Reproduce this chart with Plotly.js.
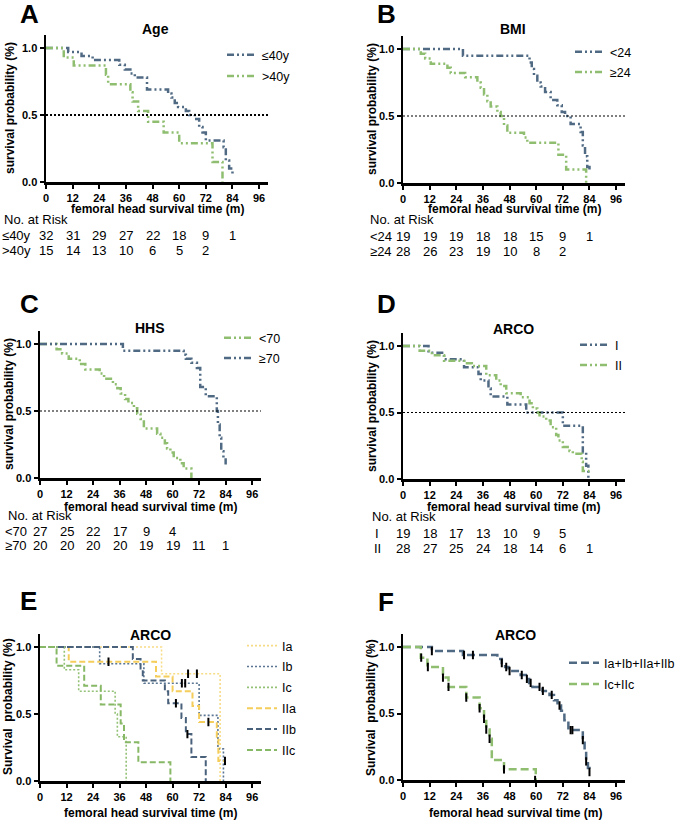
<!DOCTYPE html>
<html>
<head>
<meta charset="utf-8">
<script src="https://cdn.plot.ly/plotly-3.0.1.min.js"></script>
<style>body{margin:0;background:#fff}</style>
</head>
<body>
<div id="chart" style="width:685px;height:820px"></div>
<script>
// KM steps: time (m) where the curve drops, survival after the drop
var ageLe40T = [0, 10, 16, 21, 33, 35.5, 38, 40, 45.5, 55, 56.5, 58, 59.5, 63, 64.5, 67, 69, 70.5, 72, 80, 81, 82.5, 84];
var ageLe40S = [1, 0.97, 0.94, 0.91, 0.875, 0.84, 0.81, 0.78, 0.69, 0.66, 0.63, 0.59, 0.56, 0.53, 0.50, 0.47, 0.41, 0.37, 0.31, 0.26, 0.16, 0.10, 0.06];
var ageGt40T = [0, 8, 12.5, 27, 28, 38, 39, 41.5, 46, 53, 60, 75, 79.5];
var ageGt40S = [1, 0.93, 0.87, 0.80, 0.73, 0.67, 0.60, 0.53, 0.45, 0.37, 0.29, 0.15, 0];

var bmiLt24T = [0, 27, 57, 58, 59, 60.5, 62, 64, 66.5, 69.5, 71.5, 73, 75.5, 80, 81, 82, 83, 84];
var bmiLt24S = [1, 0.95, 0.90, 0.85, 0.80, 0.75, 0.72, 0.68, 0.62, 0.58, 0.53, 0.50, 0.44, 0.38, 0.28, 0.20, 0.12, 0.08];
var bmiGe24T = [0, 8, 10, 12.5, 20, 21.5, 28, 33.5, 35, 36.5, 38, 39.5, 42.5, 44, 45.5, 47, 54.5, 56, 70, 73.5, 82.5];
var bmiGe24S = [1, 0.965, 0.93, 0.89, 0.86, 0.82, 0.79, 0.75, 0.71, 0.66, 0.61, 0.57, 0.53, 0.50, 0.43, 0.375, 0.34, 0.30, 0.21, 0.10, 0];

var hhsLt70T = [0, 7.5, 10, 13, 18, 20.5, 27, 29, 33, 35, 36.5, 38.5, 40, 42.5, 44, 45.5, 47, 53, 54.5, 56.5, 57.5, 59, 60.5, 63.5, 65, 68.5];
var hhsLt70S = [1, 0.96, 0.93, 0.89, 0.85, 0.81, 0.78, 0.74, 0.70, 0.67, 0.63, 0.59, 0.56, 0.52, 0.48, 0.44, 0.37, 0.33, 0.30, 0.26, 0.22, 0.19, 0.15, 0.11, 0.07, 0];
var hhsGe70T = [0, 37.5, 65, 66, 68.5, 71, 72.5, 75, 80, 80.5, 81.3, 82, 83, 84];
var hhsGe70S = [1, 0.95, 0.92, 0.89, 0.86, 0.82, 0.68, 0.61, 0.50, 0.40, 0.30, 0.20, 0.15, 0.10];

var arcoIT = [0, 11.5, 18.5, 27.5, 34, 35, 38.5, 39.5, 47, 55.5, 72, 81, 82.5, 83.5];
var arcoIS = [1, 0.95, 0.90, 0.84, 0.79, 0.74, 0.68, 0.62, 0.56, 0.50, 0.40, 0.20, 0.10, 0];
var arcoIIT = [0, 7.5, 13, 18.5, 27.5, 31, 37.5, 42, 44, 46.5, 53, 57, 58.5, 60.5, 61.5, 64.5, 66.5, 69, 70, 72, 75, 76.5, 80.5, 81, 84];
var arcoIIS = [1, 0.964, 0.93, 0.89, 0.87, 0.85, 0.78, 0.74, 0.70, 0.645, 0.615, 0.57, 0.53, 0.50, 0.47, 0.44, 0.39, 0.33, 0.29, 0.24, 0.21, 0.19, 0.13, 0.06, 0.06];

var eIaT = [0, 55, 81.5];
var eIaS = [1, 0.80, 0];
var eIbT = [0, 27, 47, 72, 80.5, 83];
var eIbS = [1, 0.875, 0.73, 0.49, 0.24, 0];
var eIcT = [0, 11, 17.5, 34, 35, 39];
var eIcS = [1, 0.83, 0.67, 0.50, 0.33, 0];
var eIIaT = [0, 13, 52.5, 60, 69, 72, 80, 80.7, 83.5];
var eIIaS = [1, 0.89, 0.78, 0.67, 0.56, 0.44, 0.33, 0.15, 0.15];
var eIIbT = [0, 42, 45.5, 46.5, 56.5, 58, 64, 66, 68.5, 75];
var eIIbS = [1, 0.91, 0.83, 0.75, 0.67, 0.58, 0.47, 0.35, 0.18, 0];
var eIIcT = [0, 7.5, 20, 27.5, 36.5, 38, 44.5, 59];
var eIIcS = [1, 0.86, 0.71, 0.57, 0.43, 0.29, 0.14, 0];
// censored marks in E
var eCensT = [67, 71, 64.2, 65.7, 31, 76.2, 83.7, 61.5, 66.7];
var eCensS = [0.80, 0.80, 0.73, 0.73, 0.89, 0.44, 0.15, 0.58, 0.35];

var fAbT = [0, 13, 27, 42.5, 44.5, 46, 47.5, 53, 55.3, 56.8, 58.3, 62.8, 66, 68, 69.6, 71.2, 72.7, 74.5, 81, 81.8, 82.5, 83.3, 84];
var fAbS = [1, 0.97, 0.94, 0.91, 0.88, 0.85, 0.82, 0.79, 0.76, 0.73, 0.70, 0.67, 0.64, 0.60, 0.56, 0.52, 0.45, 0.375, 0.30, 0.22, 0.14, 0.09, 0.06];
var fCT = [0, 8, 11, 18, 20.5, 28.5, 34.5, 36.5, 37.5, 39, 40, 45.5, 59.8];
var fCS = [1, 0.92, 0.85, 0.77, 0.70, 0.62, 0.54, 0.46, 0.38, 0.31, 0.15, 0.08, 0];
var fAbCensT = [13, 27.5, 31.5, 44.5, 46.5, 48, 53.5, 55.8, 57.5, 61.5, 63, 67, 70.5, 75.5, 76.3, 81, 82.5, 84];
var fAbCensS = [0.97, 0.94, 0.94, 0.88, 0.85, 0.82, 0.79, 0.76, 0.73, 0.70, 0.67, 0.64, 0.56, 0.375, 0.375, 0.30, 0.14, 0.06];
var fCCensT = [8.2, 11.2, 18, 20.5, 28.5, 34.5, 36.5, 37.5, 39, 45.5, 59.5];
var fCCensS = [0.92, 0.85, 0.77, 0.70, 0.62, 0.54, 0.46, 0.38, 0.31, 0.08, 0.0];

// number at risk
var riskT = [0, 12, 24, 36, 48, 60, 72, 84];
var riskLe40 = [32, 31, 29, 27, 22, 18, 9, 1];
var riskGt40 = [15, 14, 13, 10, 6, 5, 2];
var riskLt24 = [19, 19, 19, 18, 18, 15, 9, 1];
var riskGe24 = [28, 26, 23, 19, 10, 8, 2];
var riskLt70 = [27, 25, 22, 17, 9, 4];
var riskGe70 = [20, 20, 20, 20, 19, 19, 11, 1];
var riskI = [19, 18, 17, 13, 10, 9, 5];
var riskII = [28, 27, 25, 24, 18, 14, 6, 1];

var xTicks = [0, 12, 24, 36, 48, 60, 72, 84, 96];

var W = 685, H = 820;
var FONT = 'Arial, Liberation Sans, Helvetica, sans-serif';
var BLUE = '#506a84', GREEN = '#8fbe70';
var DDOT = '7px,3px,2px,3px,2px,3px';

function px(x) { return x / W; }
function py(y) { return 1 - y / H; }

function km(t, s, name, color, dash, width, n, leg) {
  return {x: t, y: s, type: 'scatter', mode: 'lines', name: name,
    line: {shape: 'hv', color: color, dash: dash, width: width},
    xaxis: 'x' + n, yaxis: 'y' + n, legend: leg, legendgroup: name + n, hoverinfo: 'skip'};
}
function cens(t, s, n) {
  return {x: t, y: s, type: 'scatter', mode: 'markers', showlegend: false,
    marker: {symbol: 'line-ns-open', size: 6, color: '#000', line: {width: 2, color: '#000'}},
    xaxis: 'x' + n, yaxis: 'y' + n, hoverinfo: 'skip'};
}

var traces = [
  km(ageLe40T, ageLe40S, '≤40y', BLUE, DDOT, 2.5, '', 'legend'),
  km(ageGt40T, ageGt40S, '&gt;40y', GREEN, DDOT, 2.5, '', 'legend'),
  km(bmiLt24T, bmiLt24S, '&lt;24', BLUE, DDOT, 2.5, '2', 'legend2'),
  km(bmiGe24T, bmiGe24S, '≥24', GREEN, DDOT, 2.5, '2', 'legend2'),
  km(hhsLt70T, hhsLt70S, '&lt;70', GREEN, DDOT, 2.5, '3', 'legend3'),
  km(hhsGe70T, hhsGe70S, '≥70', BLUE, DDOT, 2.5, '3', 'legend3'),
  km(arcoIT, arcoIS, 'I', BLUE, DDOT, 2.5, '4', 'legend4'),
  km(arcoIIT, arcoIIS, 'II', GREEN, DDOT, 2.5, '4', 'legend4'),
  km(eIaT, eIaS, 'Ia', '#f8dc85', '2px,2px', 1.6, '5', 'legend5'),
  km(eIbT, eIbS, 'Ib', '#5b7693', '2px,2px', 1.6, '5', 'legend5'),
  km(eIcT, eIcS, 'Ic', '#93c276', '2px,2px', 1.6, '5', 'legend5'),
  km(eIIaT, eIIaS, 'IIa', '#f4cd5a', '6px,3px', 2, '5', 'legend5'),
  km(eIIbT, eIIbS, 'IIb', '#4a617b', '6px,3px', 2, '5', 'legend5'),
  km(eIIcT, eIIcS, 'IIc', '#86b865', '6px,3px', 2, '5', 'legend5'),
  cens(eCensT, eCensS, '5'),
  km(fAbT, fAbS, 'Ia+Ib+IIa+IIb', BLUE, '8px,4px', 2.5, '6', 'legend6'),
  km(fCT, fCS, 'Ic+IIc', GREEN, '8px,4px', 2.5, '6', 'legend6'),
  cens(fAbCensT, fAbCensS, '6'),
  cens(fCCensT, fCCensS, '6')
];

// panel frames in pixels: [left, right, top, bottom]
var frames = [
  [46, 268, 34.6, 182],
  [403, 625, 35.6, 183],
  [40, 261, 330.6, 478],
  [403, 625, 332.7, 479],
  [40, 261, 633.6, 781],
  [403, 625, 633.7, 780]
];

var layout = {
  width: W, height: H, margin: {l: 0, r: 0, t: 0, b: 0},
  paper_bgcolor: '#fff', plot_bgcolor: 'rgba(0,0,0,0)',
  font: {family: FONT, color: '#000'},
  showlegend: true, annotations: [], shapes: []
};

var tickFont = {family: FONT, size: 11, color: '#000', weight: 'bold'};
frames.forEach(function (f, i) {
  var n = i === 0 ? '' : String(i + 1);
  layout['xaxis' + n] = {domain: [px(f[0]), px(f[1])], anchor: 'y' + n, range: [0, 100],
    tickvals: xTicks, ticks: 'outside', ticklen: 4, tickwidth: 2, tickcolor: '#000',
    showline: true, linewidth: 2.5, linecolor: '#000', showgrid: false, zeroline: false,
    tickfont: tickFont, fixedrange: true};
  layout['yaxis' + n] = {domain: [py(f[3]), py(f[2])], anchor: 'x' + n, range: [0, 1.1],
    tickvals: [0, 0.5, 1], ticktext: ['0.0', '0.5', '1.0'], ticks: 'outside', ticklen: 4, tickwidth: 2,
    tickcolor: '#000', showline: true, linewidth: 2.5, linecolor: '#000', showgrid: false,
    zeroline: false, tickfont: tickFont, fixedrange: true};
  if (i < 4) {
    layout.shapes.push({type: 'line', xref: 'x' + n, yref: 'y' + n, x0: 0, x1: 100, y0: 0.5, y1: 0.5,
      line: {color: '#000', width: i === 0 ? 2 : 1.2, dash: '2px,2px'}});
  }
});

function leg(x, y, gap) {
  return {x: px(x), y: py(y), xanchor: 'left', yanchor: 'top', bgcolor: 'rgba(0,0,0,0)',
    font: {family: FONT, size: 12.5, color: '#000'}, traceorder: 'grouped', tracegroupgap: gap, itemwidth: 30};
}
layout.legend = leg(222, 40, 2);
layout.legend2 = leg(570, 37, 1);
layout.legend3 = leg(219, 323, 1);
layout.legend4 = leg(575, 330, 1);
layout.legend5 = leg(242, 631, 1.6);
layout.legend6 = leg(564, 648, 2);

function ann(text, x, y, o) {
  o = o || {};
  layout.annotations.push({text: text, x: o.xref ? x : px(x), y: py(y), xref: o.xref || 'paper', yref: 'paper',
    xanchor: o.anchor || 'center', yanchor: 'middle', showarrow: false, textangle: o.angle || 0,
    font: {family: FONT, size: o.size || 12, color: '#000', weight: o.bold ? 'bold' : 'normal'}});
}

// panel letters and titles
[['A', 29, 14], ['B', 387, 14], ['C', 29, 304], ['D', 387, 304], ['E', 28, 601], ['F', 386, 602]].forEach(function (l) {
  ann(l[0], l[1], l[2], {size: 26, bold: true});
});
[['Age', 155, 29], ['BMI', 513, 29], ['HHS', 150, 328], ['ARCO', 513, 329], ['ARCO', 150, 635], ['ARCO', 515, 635]].forEach(function (l) {
  ann(l[0], l[1], l[2], {size: 14, bold: true});
});
// axis titles
[[157, 209], [514, 209], [150, 507], [513, 507], [150, 813], [515, 813]].forEach(function (p) {
  ann('femoral head survival time (m)', p[0], p[1], {bold: true});
});
[[10, 108, 'survival probability (%)'], [372, 109, 'survival probability (%)'],
 [9, 404, 'survival probability (%)'], [372, 406, 'survival probability (%)'],
 [8, 707, 'Survival\u00a0 probability (%)'], [371, 708, 'Survival\u00a0 probability (%)']].forEach(function (p) {
  ann(p[2], p[0], p[1], {bold: true, angle: -90});
});

// number at risk tables
function riskTable(n, hx, hy, rows) {
  ann('No. at Risk', hx, hy, {anchor: 'left', size: 13});
  rows.forEach(function (r) {
    ann(r.label, r.lx, r.y, {anchor: 'left', size: 13});
    r.vals.forEach(function (v, k) {
      ann(String(v), riskT[k], r.y, {xref: 'x' + n, size: 13});
    });
  });
}
riskTable('', 2, 219, [{label: '≤40y', lx: 0, y: 235, vals: riskLe40}, {label: '&gt;40y', lx: 0, y: 250, vals: riskGt40}]);
riskTable('2', 368, 219, [{label: '&lt;24', lx: 368, y: 236, vals: riskLt24}, {label: '≥24', lx: 368, y: 251, vals: riskGe24}]);
riskTable('3', 6, 515, [{label: '&lt;70', lx: 3, y: 531, vals: riskLt70}, {label: '≥70', lx: 3, y: 545, vals: riskGe70}]);
riskTable('4', 370, 516, [{label: 'I', lx: 373, y: 533, vals: riskI}, {label: 'II', lx: 372, y: 548, vals: riskII}]);

Plotly.newPlot('chart', traces, layout, {staticPlot: true});
</script>
</body>
</html>
